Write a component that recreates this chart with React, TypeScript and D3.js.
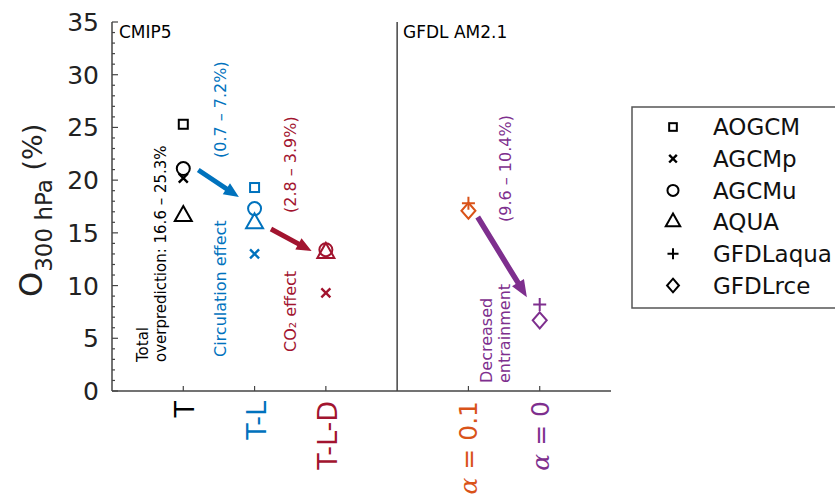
import React from "react";
import * as d3 from "d3";

// experiments on the x axis (position, label, colour)
const expPos = [1, 2, 3, 5, 6];
const expLabels = ["T", "T-L", "T-L-D", "= 0.1", "= 0"];
const expColors = ["#000000", "#0072BD", "#A2142F", "#D95319", "#7E2F8E"];

const models = ["AOGCM", "AGCMp", "AGCMu", "AQUA", "GFDLaqua", "GFDLrce"];
const shapes = ["square", "x", "circle", "triangle", "plus", "diamond"];

// O300hPa (%) per model, indexed like expPos (null = not run)
const aogcm = [25.3, 19.3, null, null, null];
const agcmp = [20.2, 13.0, 9.3, null, null];
const agcmu = [21.1, 17.3, 13.4, null, null];
const aqua = [16.6, 15.9, 13.1, null, null];
const gfdlAqua = [null, null, null, 17.8, 8.2];
const gfdlRce = [null, null, null, 17.1, 6.7];
const seriesValues = [aogcm, agcmp, agcmu, aqua, gfdlAqua, gfdlRce];

const yTicks = [0, 5, 10, 15, 20, 25, 30, 35];

const x = d3.scaleLinear().domain([0, 7]).range([112, 611]);
const y = d3.scaleLinear().domain([0, 35]).range([391, 22]);

const FONT = "DejaVu Sans, sans-serif";
const AXIS = "#444";

function Marker({ shape, cx, cy, color, k = 1 }: any) {
  const sw = 2;
  const t = `translate(${cx},${cy}) scale(${k})`;
  if (shape === "square")
    return <rect transform={t} x={-4.5} y={-4.5} width={9} height={9} fill="none" stroke={color} strokeWidth={sw / k} />;
  if (shape === "x")
    return (
      <path transform={t} d="M-4.5,-4.5L4.5,4.5M-4.5,4.5L4.5,-4.5" stroke={color} strokeWidth={2.4 / k} fill="none" />
    );
  if (shape === "circle")
    return <circle transform={t} r={6.5} fill="none" stroke={color} strokeWidth={sw / k} />;
  if (shape === "triangle")
    return <path transform={t} d="M0,-10L8.5,5L-8.5,5Z" fill="none" stroke={color} strokeWidth={sw / k} />;
  if (shape === "plus")
    return <path transform={t} d="M-6.5,0L6.5,0M0,-6.5L0,6.5" stroke={color} strokeWidth={sw / k} fill="none" />;
  return <path transform={t} d="M0,-8L7,0L0,8L-7,0Z" fill="none" stroke={color} strokeWidth={sw / k} />;
}

function Arrow({ from, to, color, shaft = 5, headL = 15, headW = 13 }: any) {
  const x1 = x(from[0]), y1 = y(from[1]), x2 = x(to[0]), y2 = y(to[1]);
  const dx = x2 - x1, dy = y2 - y1, L = Math.hypot(dx, dy);
  const ux = dx / L, uy = dy / L, nx = -uy, ny = ux;
  const bx = x2 - ux * headL, by = y2 - uy * headL;
  const p = [
    [x1 + (nx * shaft) / 2, y1 + (ny * shaft) / 2],
    [bx + (nx * shaft) / 2, by + (ny * shaft) / 2],
    [bx + (nx * headW) / 2, by + (ny * headW) / 2],
    [x2, y2],
    [bx - (nx * headW) / 2, by - (ny * headW) / 2],
    [bx - (nx * shaft) / 2, by - (ny * shaft) / 2],
    [x1 - (nx * shaft) / 2, y1 - (ny * shaft) / 2],
  ];
  return <polygon points={p.map((d) => d.join(",")).join(" ")} fill={color} />;
}

function VText({ px, py, color, size = 16, children }: any) {
  return (
    <text transform={`translate(${px},${py}) rotate(-90)`} fill={color} fontSize={size} fontFamily={FONT}>
      {children}
    </text>
  );
}

export default function App() {
  const minor = d3.range(0, 36);
  return (
    <svg width={835} height={497} style={{ position: "absolute", left: 0, top: 0, background: "#fff" }}>
      {/* axes */}
      <line x1={x(0)} x2={x(0)} y1={y(35)} y2={y(0)} stroke={AXIS} strokeWidth={1.5} />
      <line x1={x(0)} x2={x(7)} y1={y(0)} y2={y(0)} stroke={AXIS} strokeWidth={1.5} />
      <line x1={x(4)} x2={x(4)} y1={y(35)} y2={y(0)} stroke={AXIS} strokeWidth={1.5} />
      {minor.map((v) => (
        <line key={v} x1={x(0)} x2={x(0) + (v % 5 === 0 ? 6 : 3)} y1={y(v)} y2={y(v)} stroke={AXIS} strokeWidth={1.2} />
      ))}
      {yTicks.map((v) => (
        <text key={v} x={99} y={y(v)} dy="0.36em" textAnchor="end" fontSize={25} fontFamily={FONT} fill="#222">
          {v}
        </text>
      ))}
      {expPos.map((p) => (
        <line key={p} x1={x(p)} x2={x(p)} y1={y(0)} y2={y(0) - 5} stroke={AXIS} strokeWidth={1.2} />
      ))}
      {expLabels.map((l, i) =>
        i < 3 ? (
          <text key={l} transform={`translate(${x(expPos[i]) + 11},${401}) rotate(-90)`} textAnchor="end"
            fontSize={27} fontFamily={FONT} fill={expColors[i]}>
            {l}
          </text>
        ) : (
          <text key={l} transform={`translate(${x(expPos[i]) + 9},${401}) rotate(-90)`} textAnchor="end"
            fontSize={25} fontFamily={FONT} fill={expColors[i]}>
            <tspan fontFamily="DejaVu Serif, serif" fontStyle="italic">α</tspan>
            {" " + l}
          </text>
        )
      )}

      {/* y label */}
      <text transform="translate(42,297) rotate(-90)" fontFamily={FONT} fill="#222">
        <tspan fontSize={32}>O</tspan>
        <tspan fontSize={23} dy={10}>300 hPa</tspan>
        <tspan fontSize={27} dy={-10}> (%)</tspan>
      </text>

      <text x={119} y={38} fontSize={17} fontFamily={FONT}>CMIP5</text>
      <text x={403} y={38} fontSize={17} fontFamily={FONT}>GFDL AM2.1</text>

      {/* arrows */}
      <Arrow from={[1.21, 20.96]} to={[1.78, 18.4]} color="#0072BD" />
      <Arrow from={[2.23, 15.37]} to={[2.8, 13.28]} color="#A2142F" />
      <Arrow from={[5.13, 16.5]} to={[5.82, 8.9]} color="#7E2F8E" shaft={5.5} headL={17} headW={14} />

      {/* annotations */}
      <VText px={148} py={362} color="#000" size={15}>Total</VText>
      <VText px={166} py={362} color="#000" size={15}>overprediction: 16.6 – 25.3%</VText>
      <VText px={226} py={357} color="#0072BD">Circulation effect</VText>
      <VText px={226} py={158} color="#0072BD">(0.7 – 7.2%)</VText>
      <VText px={296} py={352} color="#A2142F">CO₂ effect</VText>
      <VText px={296} py={213} color="#A2142F">(2.8 – 3.9%)</VText>
      <VText px={492} py={383} color="#7E2F8E">Decreased</VText>
      <VText px={510} py={383} color="#7E2F8E">entrainment</VText>
      <VText px={511} py={222} color="#7E2F8E">(9.6 – 10.4%)</VText>

      {/* data */}
      {seriesValues.map((vals, m) =>
        vals.map((v, i) =>
          v == null ? null : (
            <Marker key={m + "-" + i} shape={shapes[m]} cx={x(expPos[i])} cy={y(v)} color={expColors[i]} />
          )
        )
      )}

      {/* legend */}
      <rect x={632} y={107} width={220} height={201} fill="#fff" stroke="#555" strokeWidth={1.5} />
      {models.map((m, i) => (
        <g key={m}>
          <Marker shape={shapes[i]} cx={673} cy={127 + i * 31.7} color="#000" k={0.85} />
          <text x={713} y={127 + i * 31.7} dy="0.36em" fontSize={23} fontFamily={FONT} fill="#111">
            {m}
          </text>
        </g>
      ))}
    </svg>
  );
}
